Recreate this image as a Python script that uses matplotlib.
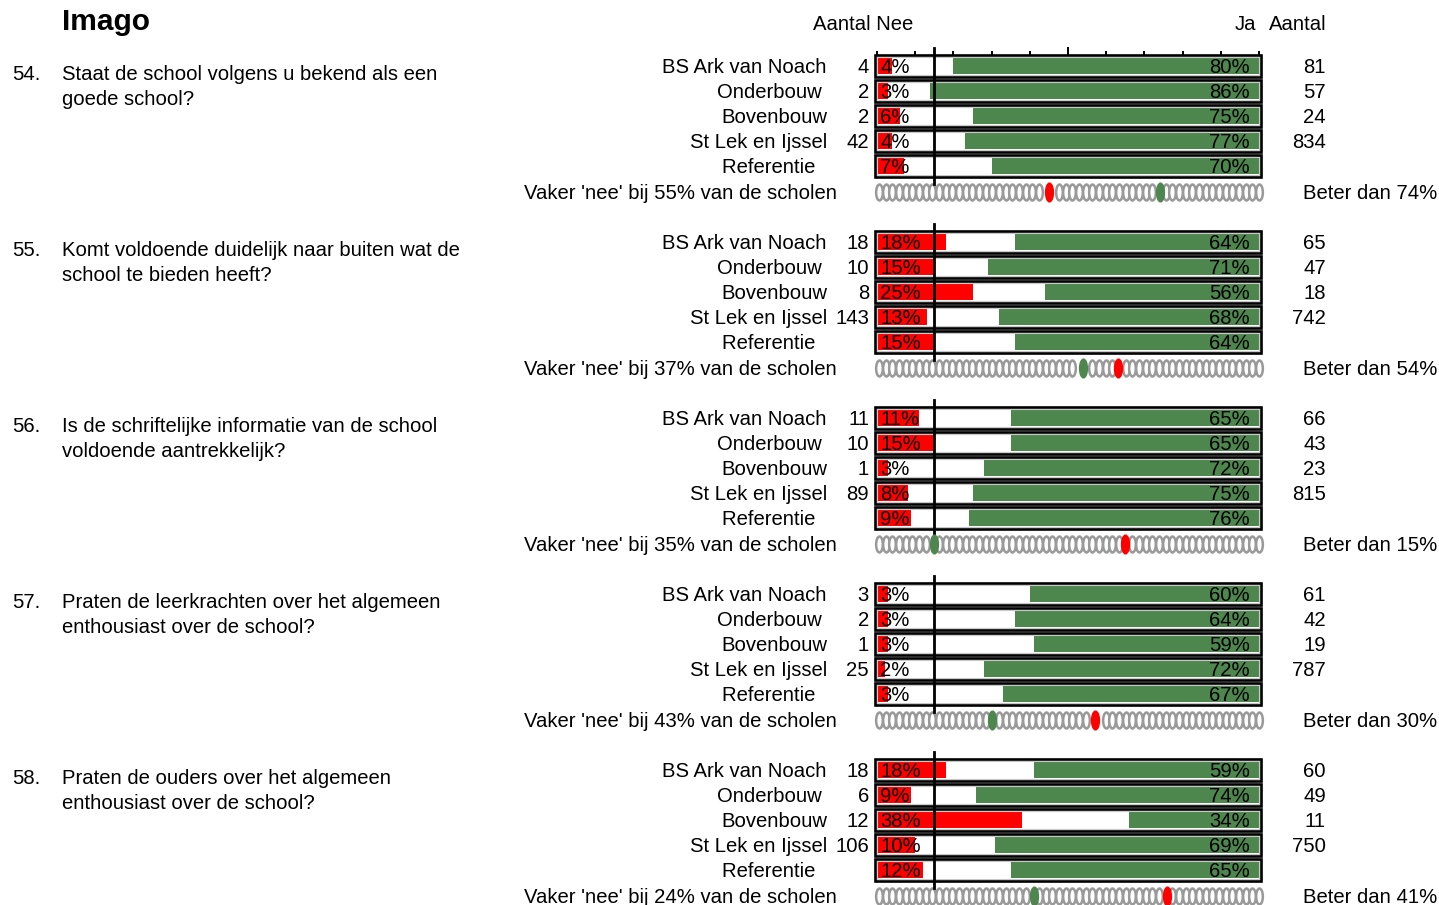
import numpy as np
import matplotlib
matplotlib.use("Agg")
import matplotlib.pyplot as plt
from matplotlib.path import Path
from matplotlib.patches import Rectangle
from matplotlib.transforms import Affine2D

# --- data -----------------------------------------------------------------
title = "Imago"
# trailing spaces as in the source sheet (labels are right-aligned)
rows = ["BS Ark van Noach", "Onderbouw ", "Bovenbouw", "St Lek en Ijssel", "Referentie  "]

q_numbers = ["54.", "55.", "56.", "57.", "58."]
q_lines = [
    ["Staat de school volgens u bekend als een", "goede school?"],
    ["Komt voldoende duidelijk naar buiten wat de", "school te bieden heeft?"],
    ["Is de schriftelijke informatie van de school", "voldoende aantrekkelijk?"],
    ["Praten de leerkrachten over het algemeen", "enthousiast over de school?"],
    ["Praten de ouders over het algemeen", "enthousiast over de school?"],
]

nee_pct = [
    [4, 3, 6, 4, 7],
    [18, 15, 25, 13, 15],
    [11, 15, 3, 8, 9],
    [3, 3, 3, 2, 3],
    [18, 9, 38, 10, 12],
]
ja_pct = [
    [80, 86, 75, 77, 70],
    [64, 71, 56, 68, 64],
    [65, 65, 72, 75, 76],
    [60, 64, 59, 72, 67],
    [59, 74, 34, 69, 65],
]
nee_n = [
    [4, 2, 2, 42],
    [18, 10, 8, 143],
    [11, 10, 1, 89],
    [3, 2, 1, 25],
    [18, 6, 12, 106],
]
ja_n = [
    [81, 57, 24, 834],
    [65, 47, 18, 742],
    [66, 43, 23, 815],
    [61, 42, 19, 787],
    [60, 49, 11, 750],
]
vaker_nee = [55, 37, 35, 43, 24]   # % of schools with more 'nee'
beter_dan = [74, 54, 15, 30, 41]   # % of schools scoring lower
norm_line = 15

# --- layout / style --------------------------------------------------------
W, H = 1439, 905
X0, X1 = 877, 1259          # pixel span of 0..100 %
ROW_PX = 25
FIRST_ROW = 66
GROUP_STEP = 176
DOT_ROW = 5.04
TY = 0.07                   # small nudge so text sits on the row centre

RED = "#ff0000"
GREEN = "#4e874e"
GRAY = "#999999"
FS = 14.6

plt.rcParams["font.family"] = ["Liberation Sans", "DejaVu Sans"]


def px(x):
    """pixel column -> data x"""
    return (x - X0) / (X1 - X0) * 100


# tall narrow ellipse used for the 'zero' dot strip
_circ = Path.unit_circle()
ellipse = Path(Affine2D().scale(0.42, 1.0).transform(_circ.vertices), _circ.codes)

fig = plt.figure(figsize=(W / 100, H / 100), dpi=100)
fig.patch.set_facecolor("white")

y_top, y_bot = -0.75, 5.45
ax_h = (y_bot - y_top) * ROW_PX
ypos = np.arange(len(rows))

for g in range(len(q_numbers)):
    top_px = FIRST_ROW + GROUP_STEP * g + y_top * ROW_PX
    ax = fig.add_axes([X0 / W, 1 - (top_px + ax_h) / H, (X1 - X0) / W, ax_h / H])
    ax.set_xlim(0, 100)
    ax.set_ylim(y_bot, y_top)
    ax.patch.set_alpha(0)
    for s in ax.spines.values():
        s.set_visible(False)
    ax.tick_params(which="both", left=False, bottom=False, top=False,
                   labelleft=False, labelbottom=False, labeltop=False)

    if g == 0:
        # scale ticks on top of the first block
        ax.spines["top"].set_position(("data", -0.45))
        ax.set_xticks([50])
        ax.set_xticks(np.arange(0, 101, 10), minor=True)
        ax.tick_params(which="both", top=True, direction="out", width=1.4,
                       color="black", labeltop=False)
        ax.tick_params(which="major", length=5.5)
        ax.tick_params(which="minor", length=2.6)

    # frames
    for r in ypos:
        ax.add_patch(Rectangle((-0.6, r - 0.44), 101.2, 0.88, fill=False,
                               ec="black", lw=1.9, zorder=4, clip_on=False))
        ax.add_patch(Rectangle((-0.05, r - 0.35), 100.1, 0.7, fill=False,
                               ec="#c8c8c8", lw=0.8, zorder=3, clip_on=False))

    nee = np.array(nee_pct[g])
    ja = np.array(ja_pct[g])
    ax.barh(ypos, nee, left=0, height=0.64, color=RED, zorder=2)
    ax.barh(ypos, ja, left=100 - ja, height=0.64, color=GREEN, zorder=2)

    ax.plot([norm_line, norm_line], [-0.72, 4.72], color="black", lw=2,
            zorder=5, clip_on=False)

    for r in ypos:
        ty = r + TY
        ax.text(0.8, ty, f"{nee[r]}%", ha="left", va="center", fontsize=FS, zorder=6)
        ax.text(97.6, ty, f"{ja[r]}%", ha="right", va="center", fontsize=FS, zorder=6)
        ax.text(px(827), ty, rows[r], ha="right", va="center", fontsize=FS)
        if r < len(nee_n[g]):
            ax.text(px(869), ty, str(nee_n[g][r]), ha="right", va="center", fontsize=FS)
            ax.text(px(1326), ty, str(ja_n[g][r]), ha="right", va="center", fontsize=FS)

    # dot strip
    red_x = 100 - vaker_nee[g]
    green_x = beter_dan[g]
    grid = np.linspace(0.5, 100, 58)
    keep = (np.abs(grid - red_x) > 1.2) & (np.abs(grid - green_x) > 1.2)
    ax.plot(grid[keep], np.full(keep.sum(), DOT_ROW), ls="none", marker=ellipse,
            ms=11.5, mfc="white", mec=GRAY, mew=1.8, clip_on=False)
    ax.plot([red_x], [DOT_ROW], ls="none", marker=ellipse, ms=13.5, mfc=RED,
            mec=RED, clip_on=False, zorder=5)
    ax.plot([green_x], [DOT_ROW], ls="none", marker=ellipse, ms=13.5, mfc=GREEN,
            mec=GREEN, clip_on=False, zorder=5)

    ax.text(px(837), DOT_ROW + TY, f"Vaker 'nee' bij {vaker_nee[g]}% van de scholen",
            ha="right", va="center", fontsize=FS)
    ax.text(px(1303), DOT_ROW + TY, f"Beter dan {beter_dan[g]}%", ha="left",
            va="center", fontsize=FS)

    # question
    ax.text(px(12), 0.28 + TY, q_numbers[g], ha="left", va="center", fontsize=FS)
    for i, line in enumerate(q_lines[g]):
        ax.text(px(62), 0.28 + i + TY, line, ha="left", va="center", fontsize=FS)

    if g == 0:
        hy = (23 - FIRST_ROW) / ROW_PX + TY
        ax.text(px(863), hy, "Aantal Nee", ha="center", va="center", fontsize=FS)
        ax.text(px(1256), hy, "Ja", ha="right", va="center", fontsize=FS)
        ax.text(px(1269), hy, "Aantal", ha="left", va="center", fontsize=FS)
        ax.text(px(62), (20 - FIRST_ROW) / ROW_PX + TY, title, ha="left", va="center",
                fontsize=21.5, fontweight="bold")

fig.savefig("out.png", dpi=100, facecolor="white")
